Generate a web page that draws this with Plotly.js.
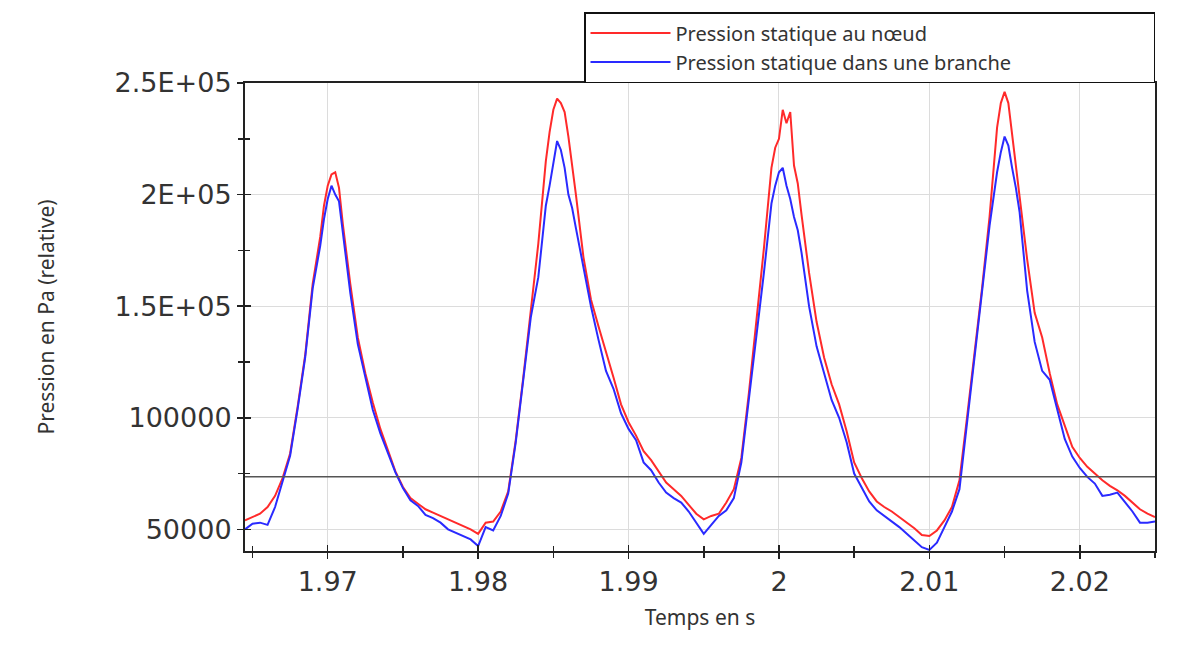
<!DOCTYPE html>
<html>
<head>
<meta charset="utf-8">
<script src="https://cdn.plot.ly/plotly-3.0.1.min.js"></script>
<style>html,body{margin:0;padding:0;background:#fff;}#chart{width:1193px;height:651px;}</style>
</head>
<body>
<div id="chart"></div>
<script>
// Time in s
const timeS = [
1.9645,1.9650,1.9655,1.9660,1.9665,1.9670,1.9675,1.9680,1.9685,1.9690,
1.9695,1.96975,1.9700,1.97025,1.9705,1.97075,1.9710,1.9715,1.9720,1.9725,
1.9730,1.9735,1.9740,1.9745,1.9750,1.9755,1.9760,1.9765,1.9770,1.9775,
1.9780,1.9785,1.9790,1.9795,1.9800,1.9805,1.9810,1.9815,1.9820,1.9825,
1.9830,1.9835,1.9840,1.9845,1.98475,1.9850,1.98525,1.9855,1.98575,1.9860,
1.98625,1.9865,1.9870,1.9875,1.9880,1.9885,1.9890,1.9895,1.9900,1.9905,
1.9910,1.9915,1.9920,1.9925,1.9930,1.9935,1.9940,1.9945,1.9950,1.9955,
1.9960,1.9965,1.9970,1.9975,1.9980,1.9985,1.9990,1.9995,1.99975,2.0000,
2.00025,2.0005,2.00075,2.0010,2.00125,2.0015,2.0020,2.0025,2.0030,2.0035,
2.0040,2.0045,2.0050,2.0055,2.0060,2.0065,2.0070,2.0075,2.0080,2.0085,
2.0090,2.0095,2.0100,2.0105,2.0110,2.0115,2.0120,2.0125,2.0130,2.0135,
2.0140,2.0145,2.01475,2.0150,2.01525,2.0155,2.01575,2.0160,2.0165,2.0170,
2.0175,2.0180,2.0185,2.0190,2.0195,2.0200,2.0205,2.0210,2.0215,2.0220,
2.0225,2.0230,2.0235,2.0240,2.0245,2.0250
];
// Static pressure at the node (kPa, relative)
const nodeKPa = [
54,55.5,57,60,65,73,84,105,128,160,
181,195,204,209,210,203,187,160,136,120,
106.7,95,85,76,69,64,61.5,59,57.5,56,
54.5,53,51.5,50,48,53,53.5,58,67,90,
118,148,178,215,228,238,243,241,237,226,
214,200,172,153,141,130,118,106,98,92,
85,81,76,71,68,65,61,57,54.5,56,
57,62,68,82,111,143,176,212,221,225,
238,232,237,213,205,191,165,143,127,115,
106,94,80,73,67,62.5,60,58,55.5,53,
50.5,47.5,47,49.5,54,60,72,100,128,158,
190,230,241,246,241,226,213,199,171,147,
136,120,106,96,87,82,78,75,72,69.5,
67.5,65,62,59,57,55.5
];
// Static pressure in a branch (kPa, relative)
const branchKPa = [
50,52.5,53,52,60,72,83,104,127,158,
177,189,198,204,200,197,183,156,133,118,
103.5,93,84,75.5,68.5,63,60.5,56.5,55,53,
50,48.5,47,45.5,42.5,51,49.5,56,66,89,
117,145,163,195,204,214,224,220,212,200,
194,185,167,150,135,121,113,102,95,90,
80,76.5,71,66.5,64,62,58,53,48,52,
56,58.5,64,80,108,136,165,196,204,210,
212,204,198,190,184,174,150,132,120,108,
100,89,75,68.5,62.5,58.5,56,53.5,51,48,
45,42,40.8,44,51,58,68,98,126,155,
186,210,219,226,222,212,203,192,157,134,
121,117,104,90.5,82.6,77.5,73.5,70.5,65,65.5,
66.5,62.5,58,53,53,53.5
];
const referenceLevel = 73600; // Pa, horizontal reference line
const seriesNames = ['Pression statique au nœud', 'Pression statique dans une branche'];
const yTickVals = [50000, 100000, 150000, 200000, 250000];
const yTickText = ['50000', '100000', '1.5E+05', '2E+05', '2.5E+05'];
const yMinorVals = [75000, 125000, 175000, 225000];

const toPa = a => a.map(v => v * 1000);

const traces = [
  {x: timeS, y: toPa(nodeKPa), type: 'scatter', mode: 'lines', name: seriesNames[0],
   line: {color: '#ff2a2a', width: 2}},
  {x: timeS, y: toPa(branchKPa), type: 'scatter', mode: 'lines', name: seriesNames[1],
   line: {color: '#2a2aff', width: 2}},
  // invisible copy so that the overlay axes (inner half of the cross ticks) are drawn
  {x: timeS, y: toPa(branchKPa), type: 'scatter', mode: 'lines', xaxis: 'x2', yaxis: 'y2',
   showlegend: false, hoverinfo: 'skip', line: {color: 'rgba(0,0,0,0)', width: 0}}
];

const xRange = [1.9645, 2.025];
const yRange = [40300, 250000];
const tickFont = {family: 'DejaVu Sans, Verdana, sans-serif', size: 27, color: '#333'};
const titleFontFamily = 'Noto Sans, Open Sans, sans-serif';

const layout = {
  width: 1193, height: 651,
  margin: {l: 245, r: 38, t: 81, b: 100},
  paper_bgcolor: '#fff', plot_bgcolor: '#fff',
  showlegend: true,
  legend: {
    orientation: 'h', x: 1, xanchor: 'right', y: 1, yanchor: 'bottom',
    entrywidth: 473, itemwidth: 80, bordercolor: '#111', borderwidth: 1.5, bgcolor: '#fff',
    font: {family: titleFontFamily, size: 20, color: '#333'},
    tracegroupgap: 0
  },
  xaxis: {
    range: xRange, tickmode: 'linear', tick0: 1.97, dtick: 0.01,
    ticks: 'outside', ticklen: 6, tickwidth: 1.5, tickcolor: '#222',
    minor: {tick0: 1.965, dtick: 0.005, ticks: 'outside', ticklen: 5, tickwidth: 1.5, tickcolor: '#222', showgrid: false},
    showgrid: true, gridcolor: '#dcdcdc', gridwidth: 1,
    showline: true, linecolor: '#222', linewidth: 2, mirror: true,
    zeroline: false, tickfont: tickFont,
    title: {text: 'Temps en s', font: {family: titleFontFamily, size: 21, color: '#333'}, standoff: 14}
  },
  yaxis: {
    range: yRange, tickmode: 'array', tickvals: yTickVals, ticktext: yTickText,
    ticks: 'outside', ticklen: 6, tickwidth: 1.5, tickcolor: '#222',
    minor: {tickmode: 'array', tickvals: yMinorVals, ticks: 'outside', ticklen: 5, tickwidth: 1.5, tickcolor: '#222', showgrid: false},
    showgrid: true, gridcolor: '#dcdcdc', gridwidth: 1,
    showline: true, linecolor: '#222', linewidth: 2, mirror: true,
    zeroline: false, tickfont: tickFont,
    title: {text: 'Pression en Pa (relative)', font: {family: titleFontFamily, size: 21, color: '#333'}, standoff: 54}
  },
  xaxis2: {
    overlaying: 'x', anchor: 'y', side: 'bottom', range: xRange,
    tickmode: 'linear', tick0: 1.97, dtick: 0.01,
    ticks: 'inside', ticklen: 6, tickwidth: 1.5, tickcolor: '#222',
    minor: {tick0: 1.965, dtick: 0.005, ticks: 'inside', ticklen: 5, tickwidth: 1.5, tickcolor: '#222', showgrid: false},
    showticklabels: false, showgrid: false, showline: false, zeroline: false
  },
  yaxis2: {
    overlaying: 'y', anchor: 'x', side: 'left', range: yRange,
    tickmode: 'array', tickvals: yTickVals,
    ticks: 'inside', ticklen: 6, tickwidth: 1.5, tickcolor: '#222',
    minor: {tickmode: 'array', tickvals: yMinorVals, ticks: 'inside', ticklen: 5, tickwidth: 1.5, tickcolor: '#222', showgrid: false},
    showticklabels: false, showgrid: false, showline: false, zeroline: false
  },
  shapes: [{
    type: 'line', xref: 'paper', x0: 0, x1: 1, yref: 'y', y0: referenceLevel, y1: referenceLevel,
    line: {color: '#555', width: 1.5}, layer: 'above'
  }]
};

Plotly.newPlot('chart', traces, layout, {displayModeBar: false, staticPlot: true});
</script>
</body>
</html>
